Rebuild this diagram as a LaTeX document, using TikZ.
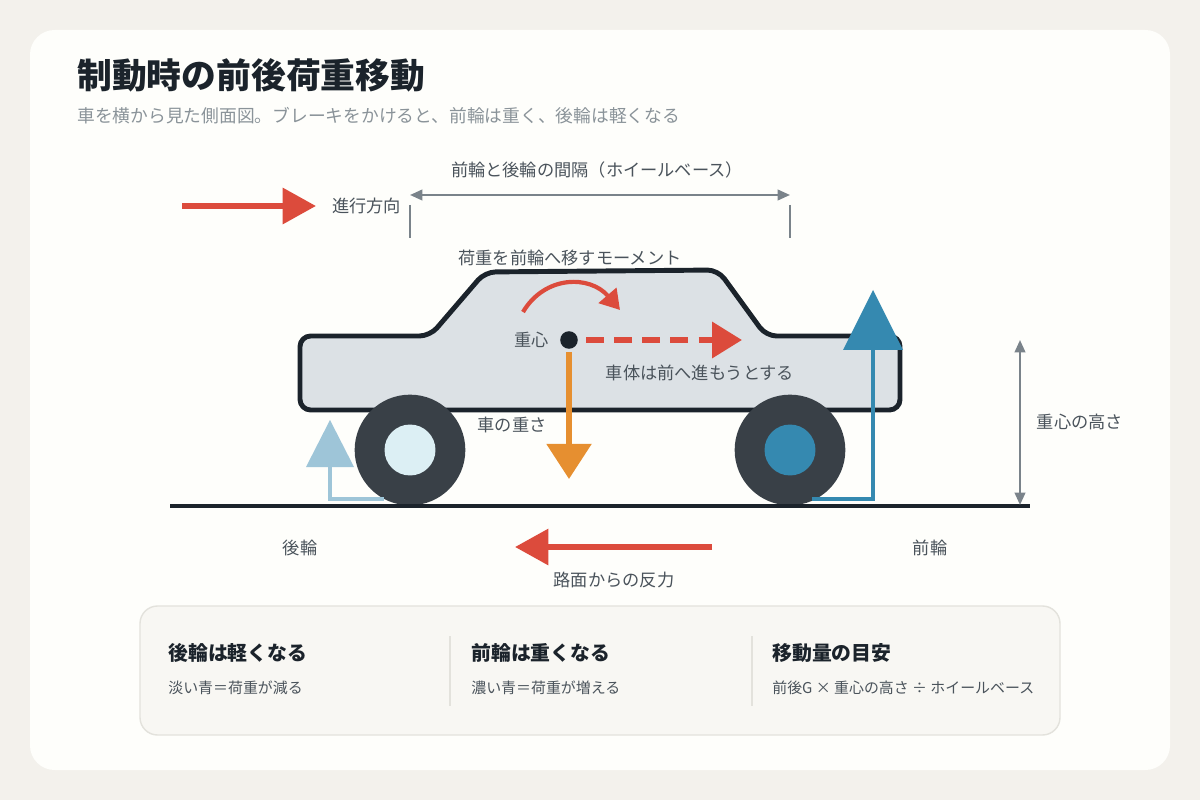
\documentclass[tikz,border=0pt]{standalone}
\usepackage{fontspec}
\usepackage{xcolor}
\usepackage{tikz}
\usetikzlibrary{positioning,arrows.meta}
\setmainfont{Noto Sans CJK JP}
\definecolor{pagebg}{HTML}{F3F1EC}
\definecolor{cardbg}{HTML}{FEFEFB}
\definecolor{inkdark}{HTML}{1B232B}
\definecolor{textgray}{HTML}{4A535B}
\definecolor{subgray}{HTML}{8A9399}
\definecolor{dimgray}{HTML}{7A838A}
\definecolor{bodyfill}{HTML}{DCE1E5}
\definecolor{tyre}{HTML}{394047}
\definecolor{brakered}{HTML}{DC4B3C}
\definecolor{weightorange}{HTML}{E68F30}
\definecolor{lightblue}{HTML}{9EC5D8}
\definecolor{deepblue}{HTML}{3589B0}
\definecolor{hubpale}{HTML}{DCEFF4}
\definecolor{panelbg}{HTML}{F8F7F3}
\definecolor{panelline}{HTML}{E3E2DC}

\begin{document}
\begin{tikzpicture}[x=0.02cm, y=-0.02cm]
    \tikzstyle{label} = [font=\fontsize{9.8}{11}\selectfont, text=textgray, inner sep=1pt]
    \tikzstyle{head} = [font=\fontsize{11.3}{13}\selectfont\bfseries, text=inkdark, anchor=west, inner sep=0pt]
    \tikzstyle{note} = [font=\fontsize{8.5}{10}\selectfont, text=textgray, anchor=west, inner sep=0pt]
    \tikzstyle{dim} = [draw=dimgray, line width=1.2pt]
    \tikzstyle{bigarrow} = [draw=brakered, line width=3.4pt, -{Triangle[length=19pt, width=20pt]}]

    % Background and card
    \fill[pagebg] (0,0) rectangle (1200,800);
    \useasboundingbox (0,0) rectangle (1200,800);
    \fill[cardbg, rounded corners=14pt] (30,30) rectangle (1170,770);

    % Title
    \node[anchor=west, inner sep=0pt, font=\fontsize{19.8}{22}\selectfont\bfseries, text=inkdark] (title) at (77,75) {制動時の前後荷重移動};
    \node[anchor=west, inner sep=0pt, font=\fontsize{10.1}{12}\selectfont, text=subgray] (subtitle) at (77,116) {車を横から見た側面図。ブレーキをかけると、前輪は重く、後輪は軽くなる};

    % Wheelbase dimension
    \coordinate (wb_l) at (410,195);
    \coordinate (wb_r) at (790,195);
    \draw[dim, {Triangle[length=7pt, width=6pt]}-{Triangle[length=7pt, width=6pt]}] (wb_l) -- (wb_r);
    \draw[dim] (410,205) -- (410,238);
    \draw[dim] (790,205) -- (790,238);
    \node[label] (wb_text) at (597,170) {前輪と後輪の間隔（ホイールベース）};

    % Direction of travel
    \coordinate (dir_s) at (182,206);
    \coordinate (dir_e) at (316,206);
    \draw[bigarrow] (dir_s) -- (dir_e);
    \node[label, right=8pt of dir_e] (dir_text) {進行方向};

    % Car body
    \draw[fill=bodyfill, draw=inkdark, line width=2.8pt, line join=round, rounded corners=6pt]
        (300,410) -- (300,336) -- (430,336) -- (485,272) -- (718,270) -- (766,336) -- (900,336) -- (900,410) -- cycle;
    \node[label] (moment_text) at (570,258) {荷重を前輪へ移すモーメント};

    % Moment arrow
    \draw[brakered, line width=2.4pt, -{Triangle[length=11pt, width=13pt]}] (523,312) .. controls (545,275) and (590,275) .. (620,310);

    % Centre of gravity
    \node[circle, fill=inkdark, minimum size=10pt, inner sep=0pt] (cg) at (569,340) {};
    \node[label, left=5pt of cg] (cg_text) {重心};
    \coordinate (push_e) at (742,340);
    \draw[brakered, line width=3.4pt, dash pattern=on 10pt off 6pt, -{Triangle[length=17pt, width=20pt]}] (cg.east) ++(8,0) -- (push_e);
    \node[label] (push_text) at (700,373) {車体は前へ進もうとする};

    % Weight
    \coordinate (wt_e) at (569,479);
    \draw[draw=weightorange, line width=3.4pt, -{Triangle[length=20pt, width=25pt]}] (569,352) -- (wt_e);
    \node[label] (wt_text) at (512,425) {車の重さ};

    % Wheels
    \node[circle, fill=tyre, minimum size=63pt, inner sep=0pt] (rear_wheel) at (410,450) {};
    \node[circle, fill=hubpale, minimum size=29pt, inner sep=0pt] at (rear_wheel) {};
    \node[circle, fill=tyre, minimum size=63pt, inner sep=0pt] (front_wheel) at (790,450) {};
    \node[circle, fill=deepblue, minimum size=29pt, inner sep=0pt] at (front_wheel) {};

    % Reaction on rear wheel (lighter)
    \draw[lightblue, line width=2.4pt] (384,499) -- (330,499) -- (330,466);
    \fill[lightblue] (306,467) -- (354,467) -- (330,420) -- cycle;

    % Reaction on front wheel (heavier)
    \draw[deepblue, line width=2.4pt] (812,499) -- (873,499) -- (873,348);
    \fill[deepblue] (843,350) -- (903,350) -- (873,290) -- cycle;

    % Ground
    \coordinate (gnd_l) at (170,506);
    \coordinate (gnd_r) at (1030,506);
    \draw[inkdark, line width=2.4pt] (gnd_l) -- (gnd_r);

    % Height of centre of gravity
    \draw[dim, {Triangle[length=7pt, width=6pt]}-{Triangle[length=7pt, width=6pt]}] (1020,340) -- (1020,505);
    \node[label] (h_text) at (1080,422) {重心の高さ};

    % Wheel names
    \node[label] (rear_text) at (300,548) {後輪};
    \node[label] (front_text) at (930,548) {前輪};

    % Road reaction
    \coordinate (road_s) at (712,547);
    \coordinate (road_e) at (515,547);
    \draw[bigarrow] (road_s) -- (road_e);
    \node[label] (road_text) at (614,580) {路面からの反力};

    % Legend panel
    \draw[fill=panelbg, draw=panelline, line width=0.8pt, rounded corners=10pt] (140,606) rectangle (1060,735);
    \draw[panelline, line width=1pt] (450,636) -- (450,706);
    \draw[panelline, line width=1pt] (752,636) -- (752,706);
    \node[head] (rear_head) at (168,653) {後輪は軽くなる};
    \node[note] at (168,688) {淡い青＝荷重が減る};
    \node[head] (front_head) at (471,653) {前輪は重くなる};
    \node[note] at (471,688) {濃い青＝荷重が増える};
    \node[head] (shift_head) at (772,653) {移動量の目安};
    \node[note] at (772,688) {前後G × 重心の高さ ÷ ホイールベース};
\end{tikzpicture}
\end{document}
